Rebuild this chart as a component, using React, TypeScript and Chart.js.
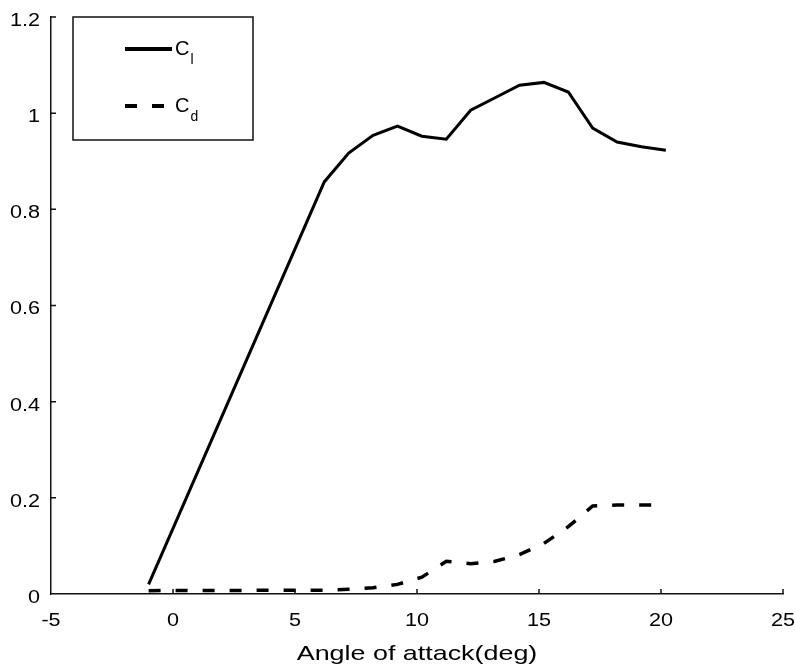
import React, { useEffect, useRef } from "react";
import { Chart, registerables } from "chart.js";

Chart.register(...registerables);

const angles = [-1, 6.2, 7.2, 8.2, 9.2, 10.2, 11.2, 12.2, 13.2, 14.2, 15.2, 16.2, 17.2, 18.2, 19.2, 20.2];
const clValues = [0.02, 0.857, 0.917, 0.954, 0.973, 0.952, 0.946, 1.006, 1.032, 1.058, 1.064, 1.044, 0.969, 0.94, 0.93, 0.923];
const cdValues = [0.007, 0.008, 0.01, 0.013, 0.02, 0.035, 0.068, 0.063, 0.068, 0.082, 0.105, 0.14, 0.183, 0.185, 0.185, 0.185];
const xTicks = [-5, 0, 5, 10, 15, 20, 25];
const yTicks = [0, 0.2, 0.4, 0.6, 0.8, 1, 1.2];
const xTickLabels = ["-5", "0", "5", "10", "15", "20", "25"];
const yTickLabels = ["0", "0.2", "0.4", "0.6", "0.8", "1", "1.2"];
const xTitle = "Angle of attack(deg)";
const legendEntries = [
  { main: "C", sub: "l", dashed: false },
  { main: "C", sub: "d", dashed: true },
];

const FONT = "'Liberation Sans', Arial, sans-serif";

function stretchedText(
  ctx: CanvasRenderingContext2D,
  text: string,
  x: number,
  y: number,
  size: number,
  sx: number,
  align: CanvasTextAlign,
  baseline: CanvasTextBaseline
) {
  ctx.save();
  ctx.translate(x, y);
  ctx.scale(sx, 1);
  ctx.font = `${size}px ${FONT}`;
  ctx.textAlign = align;
  ctx.textBaseline = baseline;
  ctx.fillStyle = "#000";
  ctx.fillText(text, 0, 0);
  ctx.restore();
}

const innerTicksAndLegend = {
  id: "innerTicksAndLegend",
  afterDraw(chart: any) {
    const ctx = chart.ctx as CanvasRenderingContext2D;
    const { left, bottom, top, right } = chart.chartArea;
    const xs = chart.scales.x;
    const ys = chart.scales.y;
    ctx.save();
    ctx.strokeStyle = "#111";
    ctx.lineWidth = 1.5;
    ctx.beginPath();
    xTicks.forEach((v, i) => {
      const px = xs.getPixelForValue(v);
      if (i === 0) return;
      ctx.moveTo(px, bottom);
      ctx.lineTo(px, bottom - 5);
    });
    yTicks.forEach((v, i) => {
      const py = ys.getPixelForValue(v);
      if (i === 0) return;
      ctx.moveTo(left, py);
      ctx.lineTo(left + 5, py);
    });
    ctx.stroke();

    // tick labels
    xTicks.forEach((v, i) => {
      const px = xs.getPixelForValue(v);
      stretchedText(ctx, xTickLabels[i], px, bottom + 27, 18, 1.2, "center", "middle");
    });
    yTicks.forEach((v, i) => {
      const py = ys.getPixelForValue(v);
      stretchedText(ctx, yTickLabels[i], left - 11, py + 4, 18, 1.2, "right", "middle");
    });
    // axis title
    stretchedText(ctx, xTitle, (left + right) / 2, bottom + 66, 21, 1.28, "center", "alphabetic");

    // legend box
    const bx = left + 22;
    const by = top;
    const bw = 180;
    const bh = 123;
    ctx.lineWidth = 1.5;
    ctx.strokeStyle = "#111";
    ctx.strokeRect(bx, by, bw, bh);

    legendEntries.forEach((e, i) => {
      const ly = by + 32 + i * 57;
      ctx.beginPath();
      ctx.lineWidth = 4;
      ctx.strokeStyle = "#000";
      ctx.setLineDash(e.dashed ? [12, 15] : []);
      ctx.lineCap = "butt";
      ctx.moveTo(bx + 52, ly);
      ctx.lineTo(bx + 99, ly);
      ctx.stroke();
      ctx.setLineDash([]);
      ctx.fillStyle = "#000";
      ctx.textBaseline = "middle";
      ctx.textAlign = "left";
      ctx.font = `20px ${FONT}`;
      ctx.fillText(e.main, bx + 102, ly);
      const w = ctx.measureText(e.main).width;
      ctx.font = `14px ${FONT}`;
      ctx.fillText(e.sub, bx + 103 + w, ly + 11);
    });
    ctx.restore();
  },
};

export default function App() {
  const canvasRef = useRef<HTMLCanvasElement | null>(null);

  useEffect(() => {
    if (!canvasRef.current) return;
    const chart = new Chart(canvasRef.current, {
      type: "line",
      data: {
        datasets: [
          {
            label: "Cl",
            data: angles.map((x, i) => ({ x, y: clValues[i] })),
            borderColor: "#000",
            borderWidth: 3,
            pointRadius: 0,
            fill: false,
            tension: 0,
          },
          {
            label: "Cd",
            data: angles.map((x, i) => ({ x, y: cdValues[i] })),
            borderColor: "#000",
            borderWidth: 3.5,
            borderDash: [12, 15],
            borderCapStyle: "butt",
            pointRadius: 0,
            fill: false,
            tension: 0,
          },
        ],
      },
      options: {
        responsive: false,
        animation: false,
        layout: { padding: { top: 17, right: 12, left: 0, bottom: 0 } },
        plugins: {
          legend: { display: false },
          tooltip: { enabled: false },
        },
        scales: {
          x: {
            type: "linear",
            min: -5,
            max: 25,
            afterBuildTicks: (scale: any) => {
              scale.ticks = xTicks.map((v) => ({ value: v }));
            },
            afterFit: (scale: any) => {
              scale.height = 78;
              scale.paddingLeft = 0;
              scale.paddingRight = 0;
            },
            ticks: { display: false },
            grid: { display: false },
            border: { display: true, color: "#111", width: 1.5 },
          },
          y: {
            type: "linear",
            min: 0,
            max: 1.2,
            afterBuildTicks: (scale: any) => {
              scale.ticks = yTicks.map((v) => ({ value: v }));
            },
            afterFit: (scale: any) => {
              scale.width = 51;
              scale.paddingTop = 0;
              scale.paddingBottom = 0;
            },
            ticks: { display: false },
            grid: { display: false },
            border: { display: true, color: "#111", width: 1.5 },
          },
        },
      } as any,
      plugins: [innerTicksAndLegend],
    });
    return () => chart.destroy();
  }, []);

  return (
    <div style={{ position: "absolute", left: 0, top: 0, width: 795, height: 672, background: "#fff" }}>
      <canvas ref={canvasRef} width={795} height={672} />
    </div>
  );
}
